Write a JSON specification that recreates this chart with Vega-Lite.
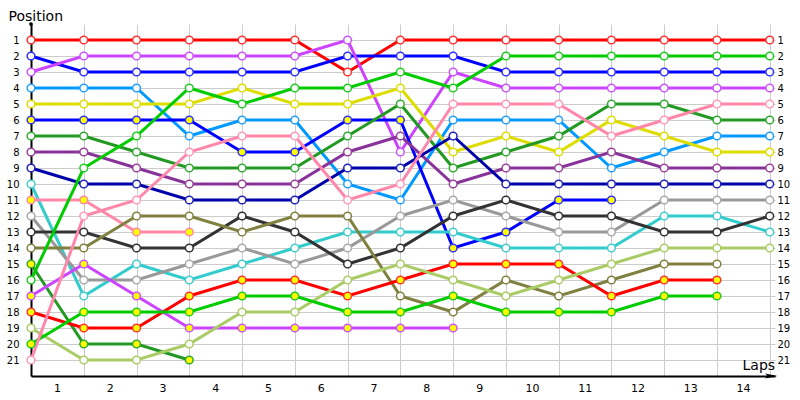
{
  "$schema": "https://vega.github.io/schema/vega-lite/v6.json",
  "width": 744,
  "height": 352,
  "autosize": {"type": "none"},
  "padding": {"left": 31, "top": 24, "right": 25, "bottom": 24},
  "background": "white",
  "config": {"view": {"stroke": null}, "font": "DejaVu Sans"},
  "datasets": {
    "cars": [
      {"d":"A","lap":0,"pos":1},{"d":"A","lap":1,"pos":1},{"d":"A","lap":2,"pos":1},{"d":"A","lap":3,"pos":1},{"d":"A","lap":4,"pos":1},{"d":"A","lap":5,"pos":1},{"d":"A","lap":6,"pos":3},{"d":"A","lap":7,"pos":1},{"d":"A","lap":8,"pos":1},{"d":"A","lap":9,"pos":1},{"d":"A","lap":10,"pos":1},{"d":"A","lap":11,"pos":1},{"d":"A","lap":12,"pos":1},{"d":"A","lap":13,"pos":1},{"d":"A","lap":14,"pos":1},
      {"d":"B","lap":0,"pos":2},{"d":"B","lap":1,"pos":3},{"d":"B","lap":2,"pos":3},{"d":"B","lap":3,"pos":3},{"d":"B","lap":4,"pos":3},{"d":"B","lap":5,"pos":3},{"d":"B","lap":6,"pos":2},{"d":"B","lap":7,"pos":2},{"d":"B","lap":8,"pos":2},{"d":"B","lap":9,"pos":3},{"d":"B","lap":10,"pos":3},{"d":"B","lap":11,"pos":3},{"d":"B","lap":12,"pos":3},{"d":"B","lap":13,"pos":3},{"d":"B","lap":14,"pos":3},
      {"d":"C","lap":0,"pos":3},{"d":"C","lap":1,"pos":2},{"d":"C","lap":2,"pos":2},{"d":"C","lap":3,"pos":2},{"d":"C","lap":4,"pos":2},{"d":"C","lap":5,"pos":2},{"d":"C","lap":6,"pos":1},{"d":"C","lap":7,"pos":8},{"d":"C","lap":8,"pos":3},{"d":"C","lap":9,"pos":4},{"d":"C","lap":10,"pos":4},{"d":"C","lap":11,"pos":4},{"d":"C","lap":12,"pos":4},{"d":"C","lap":13,"pos":4},{"d":"C","lap":14,"pos":4},
      {"d":"D","lap":0,"pos":4},{"d":"D","lap":1,"pos":4},{"d":"D","lap":2,"pos":4},{"d":"D","lap":3,"pos":7},{"d":"D","lap":4,"pos":6},{"d":"D","lap":5,"pos":6},{"d":"D","lap":6,"pos":10},{"d":"D","lap":7,"pos":11},{"d":"D","lap":8,"pos":6},{"d":"D","lap":9,"pos":6},{"d":"D","lap":10,"pos":6},{"d":"D","lap":11,"pos":9},{"d":"D","lap":12,"pos":8},{"d":"D","lap":13,"pos":7},{"d":"D","lap":14,"pos":7},
      {"d":"E","lap":0,"pos":5},{"d":"E","lap":1,"pos":5},{"d":"E","lap":2,"pos":5},{"d":"E","lap":3,"pos":5},{"d":"E","lap":4,"pos":4},{"d":"E","lap":5,"pos":5},{"d":"E","lap":6,"pos":5},{"d":"E","lap":7,"pos":4},{"d":"E","lap":8,"pos":8},{"d":"E","lap":9,"pos":7},{"d":"E","lap":10,"pos":8},{"d":"E","lap":11,"pos":6},{"d":"E","lap":12,"pos":7},{"d":"E","lap":13,"pos":8},{"d":"E","lap":14,"pos":8},
      {"d":"F","lap":0,"pos":6},{"d":"F","lap":1,"pos":6},{"d":"F","lap":2,"pos":6},{"d":"F","lap":3,"pos":6},{"d":"F","lap":4,"pos":8},{"d":"F","lap":5,"pos":8},{"d":"F","lap":6,"pos":6},{"d":"F","lap":7,"pos":6},{"d":"F","lap":8,"pos":14},{"d":"F","lap":9,"pos":13},{"d":"F","lap":10,"pos":11},{"d":"F","lap":11,"pos":11},
      {"d":"G","lap":0,"pos":7},{"d":"G","lap":1,"pos":7},{"d":"G","lap":2,"pos":8},{"d":"G","lap":3,"pos":9},{"d":"G","lap":4,"pos":9},{"d":"G","lap":5,"pos":9},{"d":"G","lap":6,"pos":7},{"d":"G","lap":7,"pos":5},{"d":"G","lap":8,"pos":9},{"d":"G","lap":9,"pos":8},{"d":"G","lap":10,"pos":7},{"d":"G","lap":11,"pos":5},{"d":"G","lap":12,"pos":5},{"d":"G","lap":13,"pos":6},{"d":"G","lap":14,"pos":6},
      {"d":"H","lap":0,"pos":8},{"d":"H","lap":1,"pos":8},{"d":"H","lap":2,"pos":9},{"d":"H","lap":3,"pos":10},{"d":"H","lap":4,"pos":10},{"d":"H","lap":5,"pos":10},{"d":"H","lap":6,"pos":8},{"d":"H","lap":7,"pos":7},{"d":"H","lap":8,"pos":10},{"d":"H","lap":9,"pos":9},{"d":"H","lap":10,"pos":9},{"d":"H","lap":11,"pos":8},{"d":"H","lap":12,"pos":9},{"d":"H","lap":13,"pos":9},{"d":"H","lap":14,"pos":9},
      {"d":"I","lap":0,"pos":9},{"d":"I","lap":1,"pos":10},{"d":"I","lap":2,"pos":10},{"d":"I","lap":3,"pos":11},{"d":"I","lap":4,"pos":11},{"d":"I","lap":5,"pos":11},{"d":"I","lap":6,"pos":9},{"d":"I","lap":7,"pos":9},{"d":"I","lap":8,"pos":7},{"d":"I","lap":9,"pos":10},{"d":"I","lap":10,"pos":10},{"d":"I","lap":11,"pos":10},{"d":"I","lap":12,"pos":10},{"d":"I","lap":13,"pos":10},{"d":"I","lap":14,"pos":10},
      {"d":"J","lap":0,"pos":10},{"d":"J","lap":1,"pos":17},{"d":"J","lap":2,"pos":15},{"d":"J","lap":3,"pos":16},{"d":"J","lap":4,"pos":15},{"d":"J","lap":5,"pos":14},{"d":"J","lap":6,"pos":13},{"d":"J","lap":7,"pos":13},{"d":"J","lap":8,"pos":13},{"d":"J","lap":9,"pos":14},{"d":"J","lap":10,"pos":14},{"d":"J","lap":11,"pos":14},{"d":"J","lap":12,"pos":12},{"d":"J","lap":13,"pos":12},{"d":"J","lap":14,"pos":13},
      {"d":"K","lap":0,"pos":11},{"d":"K","lap":1,"pos":11},{"d":"K","lap":2,"pos":13},{"d":"K","lap":3,"pos":13},
      {"d":"L","lap":0,"pos":12},{"d":"L","lap":1,"pos":16},{"d":"L","lap":2,"pos":16},{"d":"L","lap":3,"pos":15},{"d":"L","lap":4,"pos":14},{"d":"L","lap":5,"pos":15},{"d":"L","lap":6,"pos":14},{"d":"L","lap":7,"pos":12},{"d":"L","lap":8,"pos":11},{"d":"L","lap":9,"pos":12},{"d":"L","lap":10,"pos":13},{"d":"L","lap":11,"pos":13},{"d":"L","lap":12,"pos":11},{"d":"L","lap":13,"pos":11},{"d":"L","lap":14,"pos":11},
      {"d":"M","lap":0,"pos":13},{"d":"M","lap":1,"pos":13},{"d":"M","lap":2,"pos":14},{"d":"M","lap":3,"pos":14},{"d":"M","lap":4,"pos":12},{"d":"M","lap":5,"pos":13},{"d":"M","lap":6,"pos":15},{"d":"M","lap":7,"pos":14},{"d":"M","lap":8,"pos":12},{"d":"M","lap":9,"pos":11},{"d":"M","lap":10,"pos":12},{"d":"M","lap":11,"pos":12},{"d":"M","lap":12,"pos":13},{"d":"M","lap":13,"pos":13},{"d":"M","lap":14,"pos":12},
      {"d":"N","lap":0,"pos":14},{"d":"N","lap":1,"pos":14},{"d":"N","lap":2,"pos":12},{"d":"N","lap":3,"pos":12},{"d":"N","lap":4,"pos":13},{"d":"N","lap":5,"pos":12},{"d":"N","lap":6,"pos":12},{"d":"N","lap":7,"pos":17},{"d":"N","lap":8,"pos":18},{"d":"N","lap":9,"pos":16},{"d":"N","lap":10,"pos":17},{"d":"N","lap":11,"pos":16},{"d":"N","lap":12,"pos":15},{"d":"N","lap":13,"pos":15},
      {"d":"O","lap":0,"pos":15},{"d":"O","lap":1,"pos":20},{"d":"O","lap":2,"pos":20},{"d":"O","lap":3,"pos":21},
      {"d":"P","lap":0,"pos":16},{"d":"P","lap":1,"pos":9},{"d":"P","lap":2,"pos":7},{"d":"P","lap":3,"pos":4},{"d":"P","lap":4,"pos":5},{"d":"P","lap":5,"pos":4},{"d":"P","lap":6,"pos":4},{"d":"P","lap":7,"pos":3},{"d":"P","lap":8,"pos":4},{"d":"P","lap":9,"pos":2},{"d":"P","lap":10,"pos":2},{"d":"P","lap":11,"pos":2},{"d":"P","lap":12,"pos":2},{"d":"P","lap":13,"pos":2},{"d":"P","lap":14,"pos":2},
      {"d":"Q","lap":0,"pos":17},{"d":"Q","lap":1,"pos":15},{"d":"Q","lap":2,"pos":17},{"d":"Q","lap":3,"pos":19},{"d":"Q","lap":4,"pos":19},{"d":"Q","lap":5,"pos":19},{"d":"Q","lap":6,"pos":19},{"d":"Q","lap":7,"pos":19},{"d":"Q","lap":8,"pos":19},
      {"d":"R","lap":0,"pos":18},{"d":"R","lap":1,"pos":19},{"d":"R","lap":2,"pos":19},{"d":"R","lap":3,"pos":17},{"d":"R","lap":4,"pos":16},{"d":"R","lap":5,"pos":16},{"d":"R","lap":6,"pos":17},{"d":"R","lap":7,"pos":16},{"d":"R","lap":8,"pos":15},{"d":"R","lap":9,"pos":15},{"d":"R","lap":10,"pos":15},{"d":"R","lap":11,"pos":17},{"d":"R","lap":12,"pos":16},{"d":"R","lap":13,"pos":16},
      {"d":"S","lap":0,"pos":19},{"d":"S","lap":1,"pos":21},{"d":"S","lap":2,"pos":21},{"d":"S","lap":3,"pos":20},{"d":"S","lap":4,"pos":18},{"d":"S","lap":5,"pos":18},{"d":"S","lap":6,"pos":16},{"d":"S","lap":7,"pos":15},{"d":"S","lap":8,"pos":16},{"d":"S","lap":9,"pos":17},{"d":"S","lap":10,"pos":16},{"d":"S","lap":11,"pos":15},{"d":"S","lap":12,"pos":14},{"d":"S","lap":13,"pos":14},{"d":"S","lap":14,"pos":14},
      {"d":"T","lap":0,"pos":20},{"d":"T","lap":1,"pos":18},{"d":"T","lap":2,"pos":18},{"d":"T","lap":3,"pos":18},{"d":"T","lap":4,"pos":17},{"d":"T","lap":5,"pos":17},{"d":"T","lap":6,"pos":18},{"d":"T","lap":7,"pos":18},{"d":"T","lap":8,"pos":17},{"d":"T","lap":9,"pos":18},{"d":"T","lap":10,"pos":18},{"d":"T","lap":11,"pos":18},{"d":"T","lap":12,"pos":17},{"d":"T","lap":13,"pos":17},
      {"d":"U","lap":0,"pos":21},{"d":"U","lap":1,"pos":12},{"d":"U","lap":2,"pos":11},{"d":"U","lap":3,"pos":8},{"d":"U","lap":4,"pos":7},{"d":"U","lap":5,"pos":7},{"d":"U","lap":6,"pos":11},{"d":"U","lap":7,"pos":10},{"d":"U","lap":8,"pos":5},{"d":"U","lap":9,"pos":5},{"d":"U","lap":10,"pos":5},{"d":"U","lap":11,"pos":7},{"d":"U","lap":12,"pos":6},{"d":"U","lap":13,"pos":5},{"d":"U","lap":14,"pos":5}
    ],
    "arrow": [{"lap": 14.03, "pos": 22}],
    "dot": [{"lap": 0, "pos": 0}]
  },
  "encoding": {
    "x": {
      "field": "lap",
      "type": "quantitative",
      "scale": {"domain": [0, 14.1], "nice": false, "zero": false},
      "axis": {
        "values": [0,1,2,3,4,5,6,7,8,9,10,11,12,13,14],
        "labelExpr": "datum.value < 14 ? '' + (datum.value + 1) : ''",
        "labelOffset": 26,
        "labelFlush": false,
        "labelOverlap": false,
        "labelBound": false,
        "ticks": false,
        "grid": true,
        "gridColor": "#cccccc",
        "gridWidth": 1,
        "domainColor": "#000000",
        "domainWidth": 2,
        "labelFontSize": 11,
        "labelColor": "#000000",
        "labelPadding": 6,
        "title": "Laps",
        "titleAlign": "left",
        "titleBaseline": "alphabetic",
        "titleAnchor": null,
        "titleX": 711,
        "titleY": -7,
        "titleFontSize": 14,
        "titleFontWeight": "normal",
        "titleColor": "#000000"
      }
    }
  },
  "layer": [
    {
      "data": {"name": "cars"},
      "mark": {"type": "line", "strokeWidth": 3},
      "encoding": {
        "y": {
          "field": "pos",
          "type": "quantitative",
          "scale": {"domain": [0, 22], "reverse": true, "nice": false, "zero": false},
          "axis": {
            "orient": "left",
            "values": [1,2,3,4,5,6,7,8,9,10,11,12,13,14,15,16,17,18,19,20,21],
            "ticks": false,
            "grid": true,
            "gridColor": "#cccccc",
            "domainColor": "#000000",
            "domainWidth": 2,
            "labelFontSize": 10,
            "labelColor": "#000000",
            "labelPadding": 12,
            "labelOverlap": false,
            "labelFlush": false,
            "title": "Position",
            "titleAngle": 0,
            "titleAlign": "left",
            "titleBaseline": "alphabetic",
            "titleAnchor": null,
            "titleX": -23,
            "titleY": -4,
            "titleFontSize": 14,
            "titleFontWeight": "normal",
            "titleColor": "#000000"
          }
        },
        "color": {
          "field": "d",
          "type": "nominal",
          "legend": null,
          "scale": {
            "domain": ["A","B","C","D","E","F","G","H","I","J","K","L","M","N","O","P","Q","R","S","T","U"],
            "range": ["#ff0000","#0000ff","#cc44ff","#0099ff","#dddd00","#0000ff","#229922","#883399","#0000aa","#33cccc","#ff88aa","#999999","#333333","#808040","#229922","#00cc00","#cc44ff","#ff0000","#aacc66","#00cc00","#ff88aa"]
          }
        }
      }
    },
    {
      "data": {"name": "cars"},
      "mark": {"type": "point", "shape": "circle", "filled": true, "size": 60, "strokeWidth": 1.5, "opacity": 1},
      "encoding": {
        "y": {
          "field": "pos",
          "type": "quantitative",
          "scale": {"domain": [0, 22], "reverse": true, "nice": false, "zero": false},
          "axis": {
            "orient": "right",
            "values": [1,2,3,4,5,6,7,8,9,10,11,12,13,14,15,16,17,18,19,20,21],
            "ticks": false,
            "grid": false,
            "domain": false,
            "labelFontSize": 10,
            "labelColor": "#000000",
            "labelPadding": 2,
            "labelOverlap": false,
            "labelFlush": false,
            "title": null
          }
        },
        "stroke": {
          "field": "d",
          "type": "nominal",
          "legend": null,
          "scale": {
            "domain": ["A","B","C","D","E","F","G","H","I","J","K","L","M","N","O","P","Q","R","S","T","U"],
            "range": ["#ff3333","#3333ff","#cc55ff","#22a0ff","#dddd00","#3333ff","#33aa33","#994499","#2222bb","#44cccc","#ff88aa","#aaaaaa","#333333","#808040","#33aa33","#22cc22","#cc55ff","#ff3333","#aacc66","#22cc22","#ff99bb"]
          }
        },
        "fill": {
          "field": "d",
          "type": "nominal",
          "legend": null,
          "scale": {
            "domain": ["A","B","C","D","E","F","G","H","I","J","K","L","M","N","O","P","Q","R","S","T","U"],
            "range": ["#ffffff","#ffffff","#ffffff","#ffffff","#ffffff","#ffff00","#ffffff","#ffffff","#ffffff","#ffffff","#ffff00","#ffffff","#ffffff","#ffffff","#ffff00","#ffffff","#ffff00","#ffff00","#ffffff","#ffff00","#ffffff"]
          }
        }
      }
    },
    {
      "data": {"name": "arrow"},
      "mark": {"type": "point", "shape": "M-1,-0.4L1,0L-1,0.4L-0.6,0Z", "filled": true, "size": 150, "color": "#000000", "opacity": 1},
      "encoding": {
        "y": {"field": "pos", "type": "quantitative", "axis": null}
      }
    },
    {
      "data": {"name": "dot"},
      "mark": {"type": "point", "shape": "circle", "filled": true, "size": 14, "color": "#000000", "opacity": 1},
      "encoding": {
        "y": {"field": "pos", "type": "quantitative", "axis": null}
      }
    }
  ],
  "resolve": {"axis": {"y": "independent"}}
}
